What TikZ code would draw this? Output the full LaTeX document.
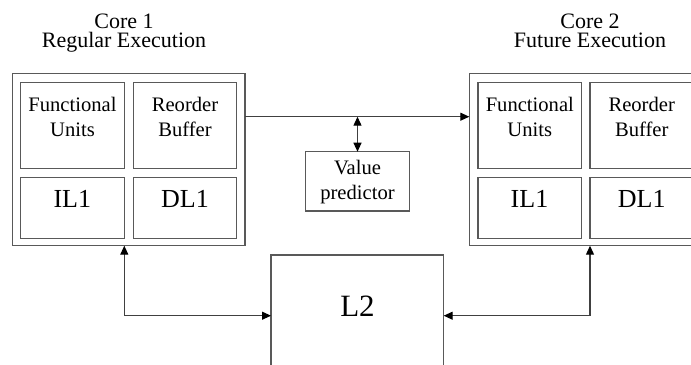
\documentclass[tikz,border=0pt]{standalone}
\usepackage{fontspec}
\setmainfont{Liberation Serif}
\usetikzlibrary{arrows.meta}
\begin{document}
\begin{tikzpicture}[x=1bp,y=-1bp,
  >={Triangle[length=9bp,width=8bp,color=black]},
  box/.style={draw=black!65, line width=1.1bp, inner sep=0pt, outer sep=0pt, anchor=north west},
  link/.style={draw=black!75, line width=1.1bp},
  title/.style={anchor=base, inner sep=0pt, text height=14.5bp, text depth=0pt, font=\fontsize{22bp}{26bp}\selectfont},
  unit/.style={anchor=base, inner sep=0pt, font=\fontsize{20.6bp}{24bp}\selectfont},
  cache/.style={anchor=base, inner sep=0pt, font=\fontsize{26bp}{30bp}\selectfont},
  big/.style={anchor=base, inner sep=0pt, font=\fontsize{31bp}{36bp}\selectfont}
]
\clip (0,0) rectangle (691,364);

% Core 1
\node[box, minimum width=232.3bp, minimum height=172.4bp] (c1) at (12.7,73.3) {};
\node[box, minimum width=103.6bp, minimum height=85.6bp] (fu1) at (20.7,82.7) {};
\node[box, minimum width=103.4bp, minimum height=85.6bp] (rb1) at (133.3,82.7) {};
\node[box, minimum width=103.6bp, minimum height=61bp] (il1) at (20.7,177.3) {};
\node[box, minimum width=103.4bp, minimum height=61bp] (dl1) at (133.3,177.3) {};

% Core 2
\node[box, minimum width=232.3bp, minimum height=172.4bp] (c2) at (469.3,73.3) {};
\node[box, minimum width=103.7bp, minimum height=85.6bp] (fu2) at (478,82.7) {};
\node[box, minimum width=103.4bp, minimum height=85.6bp] (rb2) at (590,82.7) {};
\node[box, minimum width=103.7bp, minimum height=61bp] (il2) at (478,177.3) {};
\node[box, minimum width=103.4bp, minimum height=61bp] (dl2) at (590,177.3) {};

% Value predictor and L2
\node[box, minimum width=103.6bp, minimum height=59.3bp] (vp) at (305.7,151.7) {};
\node[box, minimum width=172.7bp, minimum height=130bp] (l2) at (271,255) {};

% Titles
\node[title] (t1a) at (124,28.3) {Core 1};
\node[title] (t1b) at (124,47) {Regular Execution};
\node[title] (t2a) at (590,28.3) {Core 2};
\node[title] (t2b) at (590,47) {Future Execution};

% Box labels
\node[unit] (fu1a) at (72.5,111.7) {Functional};
\node[unit] (fu1b) at (72.5,136) {Units};
\node[unit] (rb1a) at (185,111.7) {Reorder};
\node[unit] (rb1b) at (185,136) {Buffer};
\node[cache] (il1t) at (72.3,207.3) {IL1};
\node[cache] (dl1t) at (185,207.3) {DL1};

\node[unit] (fu2a) at (529.8,111.7) {Functional};
\node[unit] (fu2b) at (529.8,136) {Units};
\node[unit] (rb2a) at (641.7,111.7) {Reorder};
\node[unit] (rb2b) at (641.7,136) {Buffer};
\node[cache] (il2t) at (529.5,207.3) {IL1};
\node[cache] (dl2t) at (641.7,207.3) {DL1};

\node[unit] (vpa) at (357.5,174) {Value};
\node[unit] (vpb) at (357.5,199) {predictor};
\node[big] (l2t) at (357.5,316.7) {L2};

% Connectors
\coordinate (bus) at (0,116.7);
\coordinate (low) at (0,315.7);
\draw[link, ->] (c1.east |- bus) -- (c2.west |- bus);
\draw[link, <->] (vp.north |- bus) -- (vp.north);
\draw[link, <->] (il1.east |- c1.south) -- (il1.east |- low) -- (l2.west |- low);
\draw[link, <->] (dl2.west |- c2.south) -- (dl2.west |- low) -- (l2.east |- low);
\end{tikzpicture}
\end{document}
